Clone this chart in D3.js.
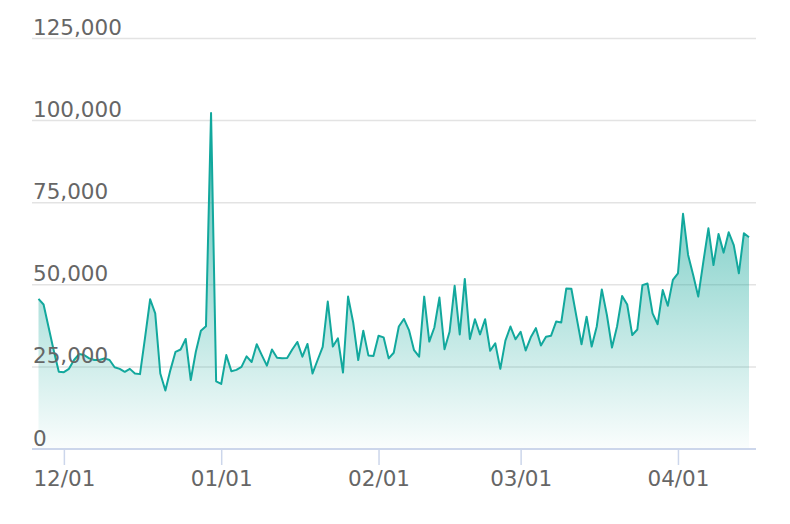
<!DOCTYPE html>
<html>
<head>
<meta charset="utf-8">
<script src="https://cdn.jsdelivr.net/npm/d3@7"></script>
<style>
  body { margin: 0; background: #fff; }
  svg { display: block; font-family: "DejaVu Sans", sans-serif; }
</style>
</head>
<body>
<svg class="chart" width="790" height="524"></svg>
<script>
// daily values, starting 2018-11-26
var startDate = new Date(2018, 10, 26);
var values = [
  45700, 44000, 37000, 30000, 23500, 23400, 24400, 27100, 28900, 28600,
  27600, 27100, 27100, 27600, 27100, 24900, 24400, 23500, 24400, 23000,
  22800, 34000, 45600, 41300, 23000, 17800, 24100, 29600, 30300, 33500,
  21000, 29600, 36000, 37400, 102300, 20600, 19800, 28600, 23700, 24100,
  25000, 28200, 26500, 31900, 28600, 25400, 30300, 27800, 27600, 27700,
  30300, 32600, 28100, 32000, 23000, 27100, 31100, 44900, 31200, 33700,
  23300, 46400, 38600, 27100, 36000, 28500, 28300, 34500, 34000, 27600,
  29300, 37300, 39600, 36200, 30100, 28100, 46400, 32700, 37000, 46100,
  30400, 35700, 49700, 34900, 51800, 33500, 39500, 34900, 39500, 29900,
  32200, 24400, 33000, 37300, 33400, 35700, 30000, 34000, 36800, 31500,
  34200, 34500, 38800, 38500, 48900, 48800, 40300, 31900, 40300, 31200,
  37300, 48600, 40800, 30900, 37300, 46600, 44000, 34700, 36400, 49900,
  50400, 41300, 38000, 48400, 43600, 51500, 53500, 71600, 59100, 53000,
  46400, 57000, 67200, 56000, 65500, 59800, 66000, 62100, 53500, 65700,
  64500
];
var yTicks = [0, 25000, 50000, 75000, 100000, 125000];
var xTicks = [new Date(2018, 11, 1), new Date(2019, 0, 1), new Date(2019, 1, 1),
              new Date(2019, 2, 1), new Date(2019, 3, 1)];

var data = values.map(function(v, i) {
  return { date: d3.timeDay.offset(startDate, i), value: v };
});

var svg = d3.select("svg.chart");
var plotLeft = 32, plotRight = 756, plotTop = 38.5, plotBottom = 449;

var x = d3.scaleTime()
    .domain(d3.extent(data, function(d) { return d.date; }))
    .range([38.5, 749]);
var y = d3.scaleLinear()
    .domain([0, 125000])
    .range([plotBottom, plotTop]);

// gradient for the area
var grad = svg.append("defs").append("linearGradient")
    .attr("id", "fade")
    .attr("gradientUnits", "userSpaceOnUse")
    .attr("x1", 0).attr("x2", 0)
    .attr("y1", y(102300)).attr("y2", plotBottom);
grad.append("stop").attr("offset", "0").attr("stop-color", "#0fa597").attr("stop-opacity", 0.72);
grad.append("stop").attr("offset", "1").attr("stop-color", "#0fa597").attr("stop-opacity", 0.02);

// grid lines
svg.selectAll("line.grid")
    .data(yTicks.filter(function(d) { return d > 0; }))
  .enter().append("line")
    .attr("class", "grid")
    .attr("x1", plotLeft).attr("x2", plotRight)
    .attr("y1", function(d) { return y(d); })
    .attr("y2", function(d) { return y(d); })
    .style("stroke", "#e3e3e3")
    .style("stroke-width", 1.5);

// area + line
svg.append("path")
    .datum(data)
    .attr("d", d3.area()
      .x(function(d) { return x(d.date); })
      .y0(plotBottom)
      .y1(function(d) { return y(d.value); }))
    .style("fill", "url(#fade)");

svg.append("path")
    .datum(data)
    .attr("d", d3.line()
      .x(function(d) { return x(d.date); })
      .y(function(d) { return y(d.value); }))
    .style("fill", "none")
    .style("stroke", "#12a89d")
    .style("stroke-width", 2)
    .style("stroke-linejoin", "round");

// y labels
svg.selectAll("text.ylab")
    .data(yTicks)
  .enter().append("text")
    .attr("class", "ylab")
    .attr("x", 33)
    .attr("y", function(d) { return y(d) - 3.5; })
    .style("font-size", "21.5px")
    .style("fill", "#666")
    .text(d3.format(","));

// x axis
var xAxis = svg.append("g")
    .attr("transform", "translate(0," + plotBottom + ")")
    .call(d3.axisBottom(x)
      .tickValues(xTicks)
      .tickFormat(d3.timeFormat("%m/%d"))
      .tickSize(16)
      .tickPadding(6));
xAxis.select(".domain").remove();
xAxis.selectAll(".tick line").style("stroke", "#ccd6eb").style("stroke-width", 1.5);
xAxis.selectAll(".tick text")
    .style("font-family", "DejaVu Sans, sans-serif")
    .style("font-size", "21.5px")
    .style("fill", "#666");

svg.append("line")
    .attr("x1", plotLeft).attr("x2", plotRight)
    .attr("y1", plotBottom).attr("y2", plotBottom)
    .style("stroke", "#ccd6eb")
    .style("stroke-width", 2);
</script>
</body>
</html>
